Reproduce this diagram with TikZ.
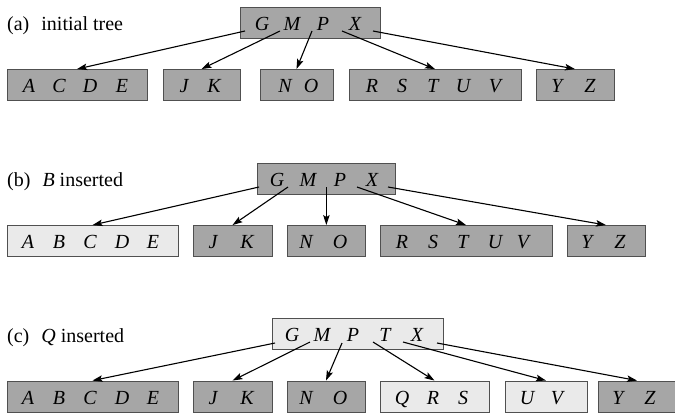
\documentclass[tikz,border=0pt]{standalone}
\usepackage{fontspec}
\setmainfont{Liberation Serif}
\usetikzlibrary{arrows.meta}
\definecolor{darkfill}{RGB}{166,166,166}
\definecolor{lightfill}{RGB}{234,234,234}
\definecolor{edgegray}{RGB}{80,80,80}
\tikzset{
  bx/.style={draw=edgegray, line width=0.9bp, inner sep=0, minimum height=31bp},
  dk/.style={bx, fill=darkfill},
  lt/.style={bx, fill=lightfill},
  key/.style={inner sep=0, anchor=base, font=\fontsize{20bp}{24bp}\selectfont\itshape},
  lbl/.style={inner sep=0, anchor=base west, font=\fontsize{20bp}{24bp}\selectfont},
  arr/.style={line width=1.1bp, -{Stealth[length=10bp,width=6.5bp,inset=2bp]}}
}
\begin{document}
\begin{tikzpicture}[x=1bp,y=-1bp]
\useasboundingbox (0,0) rectangle (675,412);

% ---------- (a) ----------
\node[lbl] (la) at (7,30) {(a)\hspace{12bp}initial tree};
\node[dk, minimum width=140bp] (a0) at (310,23) {};
\node[key] (a0G) at (262,30) {G};
\node[key] (a0M) at (292,30) {M};
\node[key] (a0P) at (323,30) {P};
\node[key] (a0X) at (355,30) {X};
\node[dk, minimum width=140bp] (a1) at (77,85) {};
\node[key] (a1A) at (29,92) {A};
\node[key] (a1C) at (59,92) {C};
\node[key] (a1D) at (90,92) {D};
\node[key] (a1E) at (122,92) {E};
\node[dk, minimum width=77bp] (a2) at (201.5,85) {};
\node[key] (a2J) at (184,92) {J};
\node[key] (a2K) at (214,92) {K};
\node[dk, minimum width=73bp] (a3) at (296.5,85) {};
\node[key] (a3N) at (285,92) {N};
\node[key] (a3O) at (311,92) {O};
\node[dk, minimum width=172bp] (a4) at (435,85) {};
\node[key] (a4R) at (372,92) {R};
\node[key] (a4S) at (402,92) {S};
\node[key] (a4T) at (433,92) {T};
\node[key] (a4U) at (463,92) {U};
\node[key] (a4V) at (495,92) {V};
\node[dk, minimum width=78bp] (a5) at (575,85) {};
\node[key] (a5Y) at (557,92) {Y};
\node[key] (a5Z) at (590,92) {Z};
\coordinate (as1) at (245,31);
\coordinate (as2) at (280,31);
\coordinate (as3) at (312,31);
\coordinate (as4) at (342,31);
\coordinate (as5) at (373,31);
\draw[arr] (as1) -- (a1.north);
\draw[arr] (as2) -- (a2.north);
\draw[arr] (as3) -- (a3.north);
\draw[arr] (as4) -- (a4.north);
\draw[arr] (as5) -- (a5.north);

% ---------- (b) ----------
\node[lbl] (lb) at (7,186) {(b)\hspace{12bp}\textit{B} inserted};
\node[dk, minimum width=138bp] (b0) at (326,178.5) {};
\node[key] (b0G) at (277,186) {G};
\node[key] (b0M) at (308,186) {M};
\node[key] (b0P) at (340,186) {P};
\node[key] (b0X) at (372,186) {X};
\node[lt, minimum width=171bp] (b1) at (92.5,241) {};
\node[key] (b1A) at (28,248) {A};
\node[key] (b1B) at (59,248) {B};
\node[key] (b1C) at (90,248) {C};
\node[key] (b1D) at (122,248) {D};
\node[key] (b1E) at (153,248) {E};
\node[dk, minimum width=79bp] (b2) at (232.5,241) {};
\node[key] (b2J) at (213,248) {J};
\node[key] (b2K) at (247,248) {K};
\node[dk, minimum width=78bp] (b3) at (326,241) {};
\node[key] (b3N) at (306,248) {N};
\node[key] (b3O) at (340,248) {O};
\node[dk, minimum width=172bp] (b4) at (466,241) {};
\node[key] (b4R) at (402,248) {R};
\node[key] (b4S) at (433,248) {S};
\node[key] (b4T) at (463,248) {T};
\node[key] (b4U) at (495,248) {U};
\node[key] (b4V) at (523,248) {V};
\node[dk, minimum width=78bp] (b5) at (606,241) {};
\node[key] (b5Y) at (587,248) {Y};
\node[key] (b5Z) at (620,248) {Z};
\coordinate (bs1) at (259,187);
\coordinate (bs2) at (288,187);
\coordinate (bs3) at (326.4,187);
\coordinate (bs4) at (357,187);
\coordinate (bs5) at (388,187);
\draw[arr] (bs1) -- (b1.north);
\draw[arr] (bs2) -- (b2.north);
\draw[arr] (bs3) -- (bs3 |- b3.north);
\draw[arr] (bs4) -- (b4.north);
\draw[arr] (bs5) -- (b5.north);

% ---------- (c) ----------
\node[lbl] (lc) at (7,342) {(c)\hspace{12bp}\textit{Q} inserted};
\node[lt, minimum width=171bp] (c0) at (357.5,334) {};
\node[key] (c0G) at (292,341) {G};
\node[key] (c0M) at (322,341) {M};
\node[key] (c0P) at (353,341) {P};
\node[key] (c0T) at (385,341) {T};
\node[key] (c0X) at (417,341) {X};
\node[dk, minimum width=171bp] (c1) at (92.5,396.5) {};
\node[key] (c1A) at (28,404) {A};
\node[key] (c1B) at (59,404) {B};
\node[key] (c1C) at (90,404) {C};
\node[key] (c1D) at (122,404) {D};
\node[key] (c1E) at (153,404) {E};
\node[dk, minimum width=79bp] (c2) at (232.5,396.5) {};
\node[key] (c2J) at (213,404) {J};
\node[key] (c2K) at (247,404) {K};
\node[dk, minimum width=78bp] (c3) at (326,396.5) {};
\node[key] (c3N) at (306,404) {N};
\node[key] (c3O) at (340,404) {O};
\node[lt, minimum width=109bp] (c4) at (434.5,396.5) {};
\node[key] (c4Q) at (402,404) {Q};
\node[key] (c4R) at (433,404) {R};
\node[key] (c4S) at (463,404) {S};
\node[lt, minimum width=82bp] (c5) at (546,396.5) {};
\node[key] (c5U) at (527,404) {U};
\node[key] (c5V) at (557,404) {V};
\node[dk, minimum width=78bp] (c6) at (637,396.5) {};
\node[key] (c6Y) at (618,404) {Y};
\node[key] (c6Z) at (650,404) {Z};
\coordinate (cs1) at (275,343);
\coordinate (cs2) at (310,342);
\coordinate (cs3) at (342,343);
\coordinate (cs4) at (373,342);
\coordinate (cs5) at (403,342);
\coordinate (cs6) at (437,343);
\draw[arr] (cs1) -- (c1.north);
\draw[arr] (cs2) -- (c2.north);
\draw[arr] (cs3) -- (c3.north);
\draw[arr] (cs4) -- (c4.north);
\draw[arr] (cs5) -- (c5.north);
\draw[arr] (cs6) -- (c6.north);
\end{tikzpicture}
\end{document}
